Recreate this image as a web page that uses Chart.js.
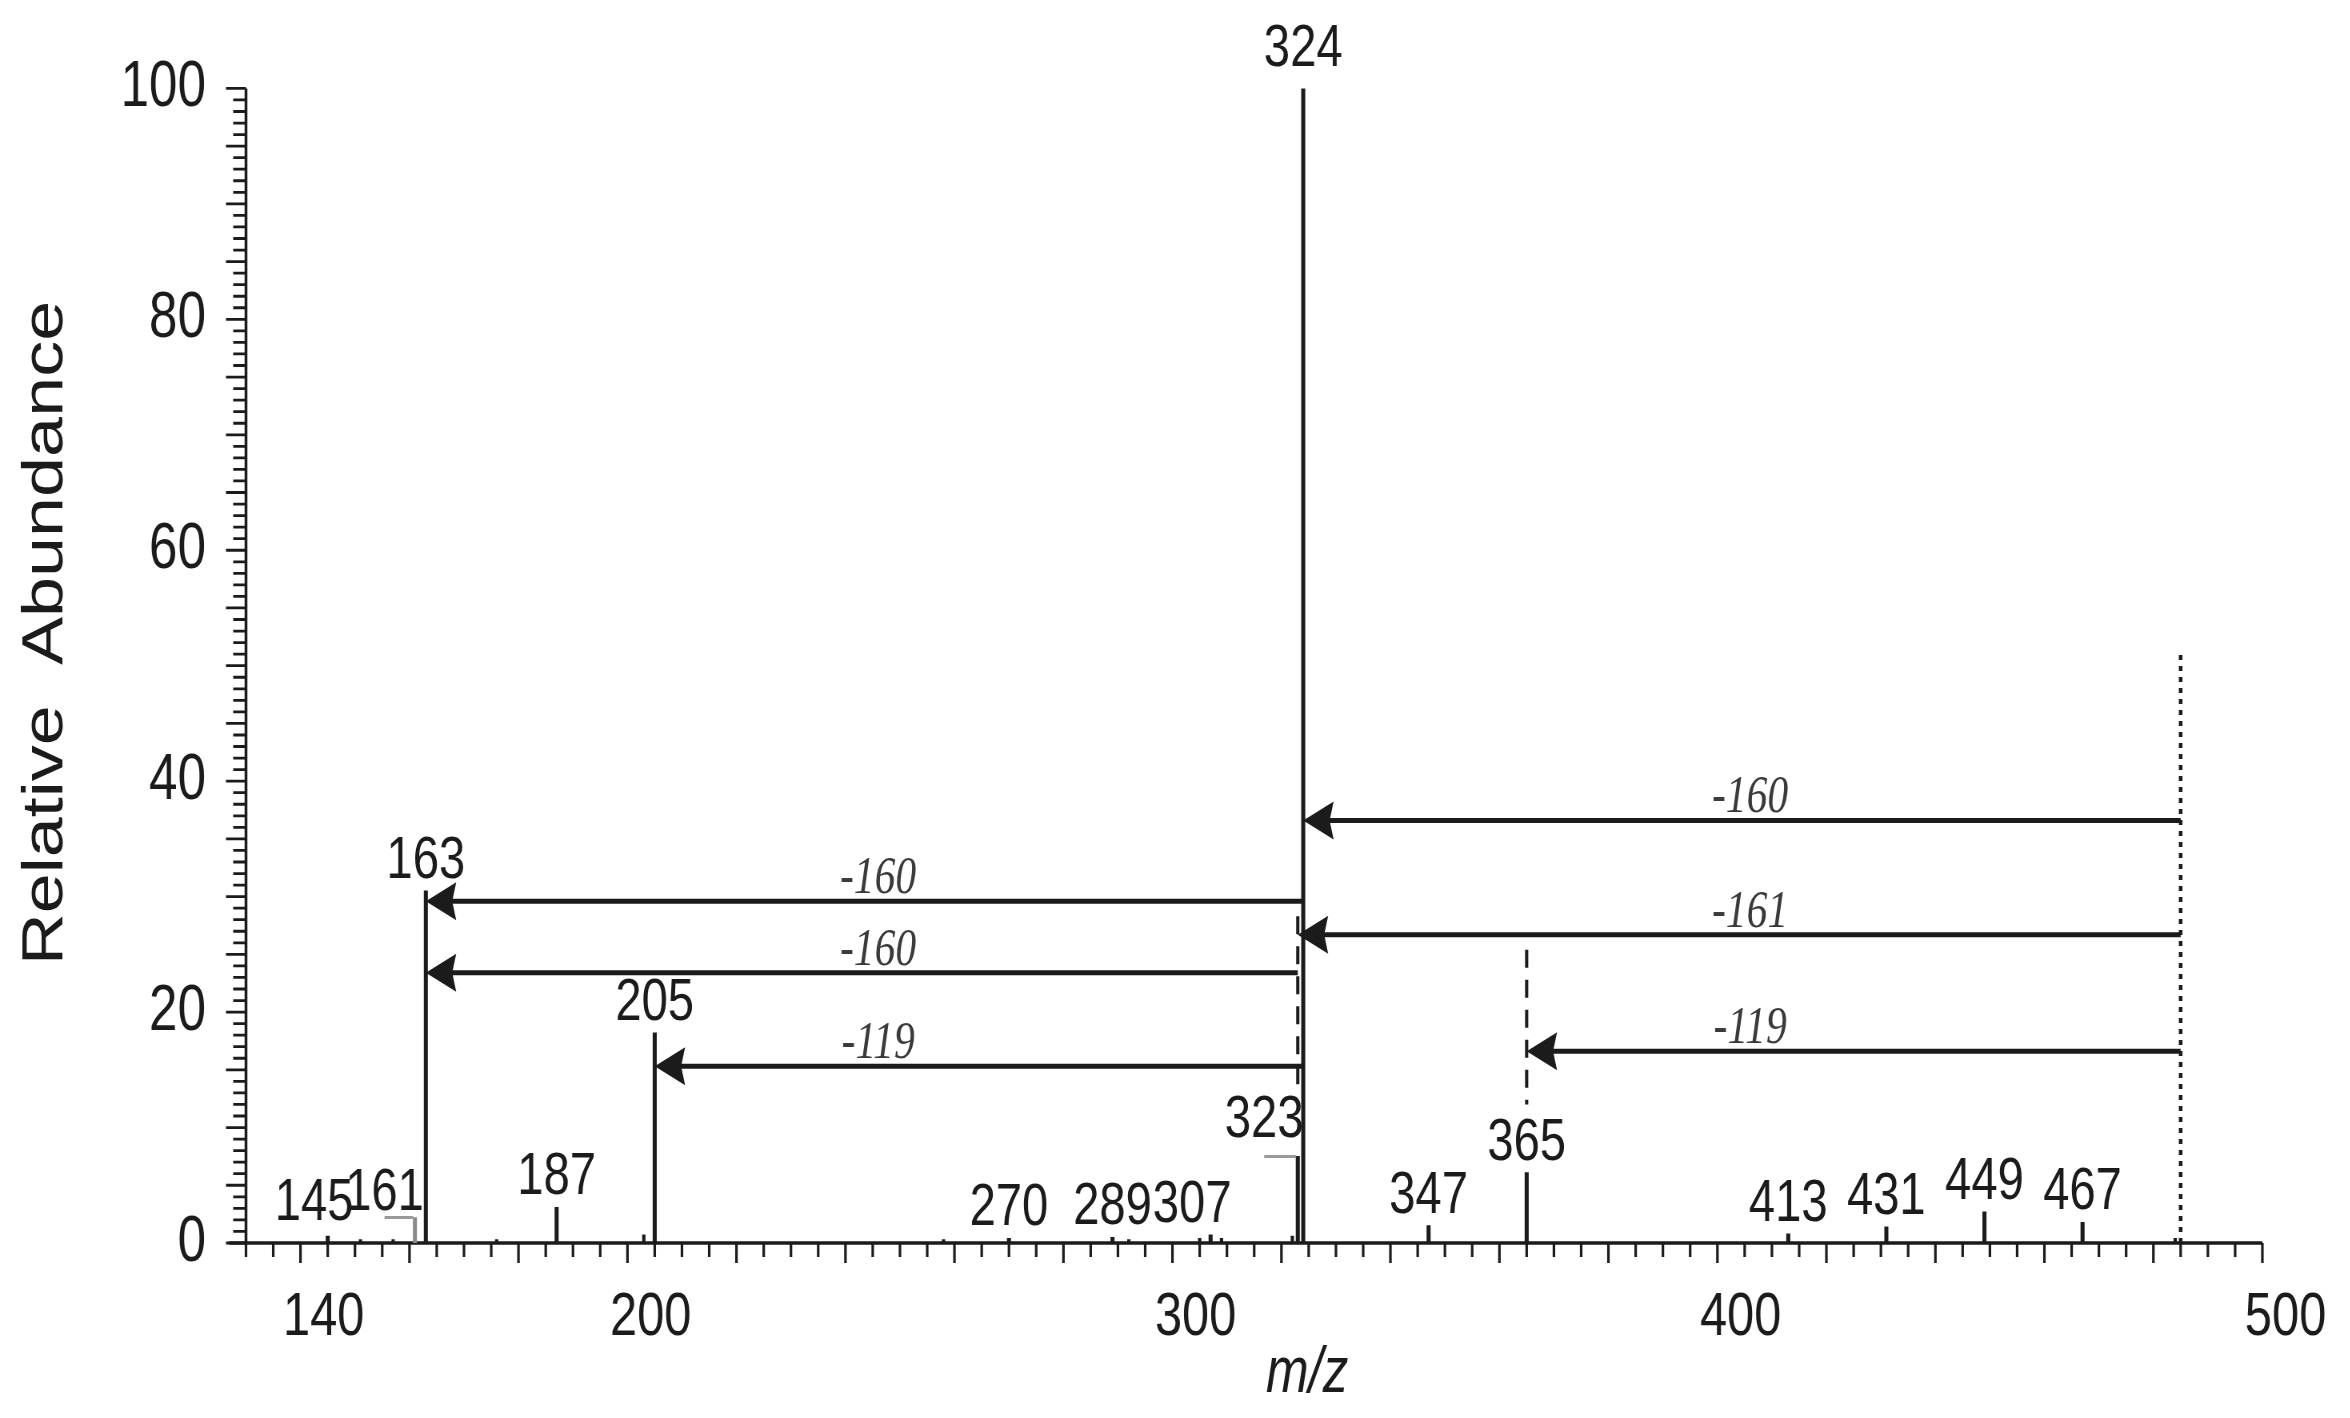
<!DOCTYPE html>
<html>
<head>
<meta charset="utf-8">
<script src="https://cdn.jsdelivr.net/npm/chart.js@4.4.1/dist/chart.umd.min.js"></script>
<style>
  html, body { margin: 0; padding: 0; background: #fff; overflow: hidden; }
  #wrap { width: 2350px; height: 1418px; overflow: hidden; }
  /* the original figure is squeezed horizontally, text included */
  canvas { transform: scaleX(0.8); transform-origin: 0 0; }
</style>
</head>
<body>
<div id="wrap"><canvas id="spectrum" width="2938" height="1418"></canvas></div>
<script>
'use strict';

// labelled peaks (m/z, relative abundance %)
const peakMz = [145, 161, 163, 187, 205, 270, 289, 307, 323, 324, 347, 365, 413, 431, 449, 467];
const peakAbundance = [0.6, 2.2, 30.5, 3.1, 18.2, 0.4, 0.5, 0.7, 7.5, 100, 1.5, 6.1, 0.8, 1.4, 2.7, 1.8];

// small unlabelled bumps on the baseline
const noiseMz = [151, 157, 176, 203, 258, 292, 305, 309, 322, 484];
const noiseAbundance = [0.3, 0.3, 0.3, 0.7, 0.3, 0.3, 0.4, 0.4, 0.6, 0.4];

// precursor ion, drawn as a dotted line
const precursorMz = 485;
const precursorTop = 51;

// dashed guides above 323 and 365
const guideMz = [323, 365];
const guideTop = [28.3, 25.4];
const guideBottom = [13, 12];

// neutral loss arrows
const arrowFrom = [485, 485, 485, 324, 323, 324];
const arrowTo = [324, 323, 365, 163, 163, 205];
const arrowLevel = [36.6, 26.7, 16.6, 29.6, 23.4, 15.3];
const arrowLoss = ['-160', '-161', '-119', '-160', '-160', '-119'];
const arrowLabelMz = [406, 406, 406, 246, 246, 246];

const xTickLabels = [140, 200, 300, 400, 500];
const yTickLabels = [0, 20, 40, 60, 80, 100];

const INK = '#1b1b1b';
const SANS = '"Liberation Sans", Arial, sans-serif';

// label nudges for crowded peaks (px, unsqueezed)
const labelDx = { 145: -17, 161: -38, 307: -23, 323: -42 };
const labelGap = { 145: 16, 161: 8, 323: 19, 324: 22 };

function toPoints(xs, ys) {
  return xs.map((x, i) => ({ x: x, y: ys[i] }));
}

const decor = {
  id: 'decor',
  beforeDatasetsDraw(chart) {
    const c = chart.ctx;
    const xs = chart.scales.x;
    const ys = chart.scales.y;
    const x0 = xs.getPixelForValue(xs.min);
    const y0 = ys.getPixelForValue(0);
    c.save();
    c.strokeStyle = INK;
    // axes
    c.lineWidth = 3.5;
    c.beginPath();
    c.moveTo(x0 - 21, y0);
    c.lineTo(xs.getPixelForValue(xs.max), y0);
    c.moveTo(x0, y0);
    c.lineTo(x0, ys.getPixelForValue(100));
    c.stroke();
    // x ticks every 5
    c.lineWidth = 3.2;
    c.beginPath();
    for (let v = 130; v <= 500; v += 5) {
      const px = xs.getPixelForValue(v);
      const len = (v % 20 === 0) ? 20 : 14;
      c.moveTo(px, y0);
      c.lineTo(px, y0 + len);
    }
    c.stroke();
    // y ticks every 1
    c.lineWidth = 2.8;
    c.beginPath();
    for (let v = 0; v <= 100; v += 1) {
      const py = ys.getPixelForValue(v);
      const len = (v % 5 === 0) ? 25 : 16;
      c.moveTo(x0, py);
      c.lineTo(x0 - len, py);
    }
    c.stroke();
    c.restore();
  },
  afterDatasetsDraw(chart) {
    const c = chart.ctx;
    const xs = chart.scales.x;
    const ys = chart.scales.y;
    c.save();

    // grey centroid stubs on 161 and 323
    c.strokeStyle = '#9a9a9a';
    c.lineWidth = 3;
    [[161, 2.2, 38], [323, 7.5, 42]].forEach(function (s) {
      const px = xs.getPixelForValue(s[0]);
      const py = ys.getPixelForValue(s[1]);
      c.beginPath();
      c.moveTo(px - s[2], py);
      c.lineTo(px - 2, py);
      c.stroke();
    });

    // peak labels
    c.fillStyle = INK;
    c.font = '59px ' + SANS;
    c.textAlign = 'center';
    c.textBaseline = 'alphabetic';
    peakMz.forEach(function (mz, i) {
      const px = xs.getPixelForValue(mz) + (labelDx[mz] || 0);
      const py = ys.getPixelForValue(peakAbundance[i]) - (labelGap[mz] || 13);
      c.fillText(String(mz), px, py);
    });

    // dashed guides
    c.strokeStyle = INK;
    c.lineWidth = 4;
    c.setLineDash([18, 12]);
    guideMz.forEach(function (mz, i) {
      const px = xs.getPixelForValue(mz);
      c.beginPath();
      c.moveTo(px, ys.getPixelForValue(guideTop[i]));
      c.lineTo(px, ys.getPixelForValue(guideBottom[i]));
      c.stroke();
    });

    // dotted precursor line
    c.lineWidth = 4.5;
    c.setLineDash([5, 6]);
    const ppx = xs.getPixelForValue(precursorMz);
    c.beginPath();
    c.moveTo(ppx, ys.getPixelForValue(0));
    c.lineTo(ppx, ys.getPixelForValue(precursorTop));
    c.stroke();
    c.setLineDash([]);

    // arrows
    c.lineWidth = 5;
    c.fillStyle = INK;
    arrowFrom.forEach(function (from, i) {
      const xa = xs.getPixelForValue(from);
      const xb = xs.getPixelForValue(arrowTo[i]);
      const py = ys.getPixelForValue(arrowLevel[i]);
      c.beginPath();
      c.moveTo(xa, py);
      c.lineTo(xb + 24, py);
      c.stroke();
      c.beginPath();
      c.moveTo(xb, py);
      c.lineTo(xb + 38, py - 19);
      c.lineTo(xb + 33, py);
      c.lineTo(xb + 38, py + 19);
      c.closePath();
      c.fill();
    });

    // loss labels
    c.fillStyle = '#3a3a3a';
    c.font = 'italic 52px "Liberation Serif", "Times New Roman", serif';
    c.textAlign = 'center';
    arrowLoss.forEach(function (txt, i) {
      const px = xs.getPixelForValue(arrowLabelMz[i]);
      const py = ys.getPixelForValue(arrowLevel[i]) - 8;
      c.fillText(txt, px, py);
    });

    // axis titles
    c.fillStyle = INK;
    c.font = 'italic 64px ' + SANS;
    c.textBaseline = 'middle';
    c.fillText('m/z', 1634, 1374);
    c.save();
    c.translate(58, 633);
    c.rotate(-Math.PI / 2);
    c.font = '72px ' + SANS;
    c.fillText('Relative  Abundance', 0, 0);
    c.restore();

    c.restore();
  }
};

const ctx = document.getElementById('spectrum');

const spectrum = new Chart(ctx, {
  type: 'bar',
  data: {
    datasets: [
      {
        data: toPoints(peakMz, peakAbundance),
        backgroundColor: peakMz.map(mz => mz === 161 ? '#8a8a8a' : INK),
        barThickness: 4.4,
        grouped: false
      },
      {
        data: toPoints(noiseMz, noiseAbundance),
        backgroundColor: INK,
        barThickness: 3.5,
        grouped: false
      }
    ]
  },
  options: {
    responsive: false,
    animation: false,
    devicePixelRatio: 1,
    layout: { padding: { left: 0, right: 110, top: 78, bottom: 0 } },
    plugins: {
      legend: { display: false },
      tooltip: { enabled: false }
    },
    scales: {
      x: {
        type: 'linear',
        min: 130,
        max: 500,
        offset: false,
        grid: { display: false, drawTicks: false },
        border: { display: false },
        ticks: {
          autoSkip: false,
          maxRotation: 0,
          padding: 39,
          labelOffset: 29,
          color: INK,
          font: { family: SANS, size: 61 }
        },
        afterBuildTicks: function (s) {
          s.ticks = xTickLabels.map(v => ({ value: v }));
        },
        afterFit: function (s) {
          s.height = 175;
        }
      },
      y: {
        min: 0,
        max: 100,
        grid: { display: false, drawTicks: false },
        border: { display: false },
        ticks: {
          padding: 50,
          color: INK,
          font: { family: SANS, size: 64 }
        },
        afterBuildTicks: function (s) {
          s.ticks = yTickLabels.map(v => ({ value: v }));
        },
        afterFit: function (s) {
          s.width = 307.5;
        }
      }
    }
  },
  plugins: [decor]
});
</script>
</body>
</html>
